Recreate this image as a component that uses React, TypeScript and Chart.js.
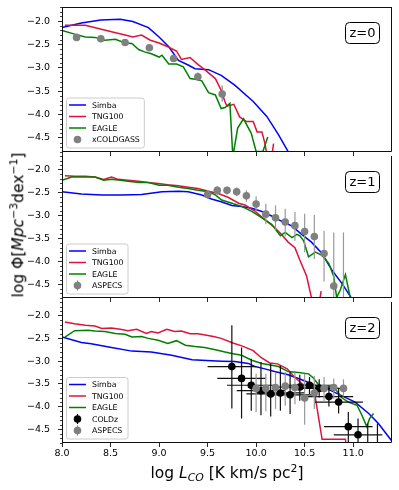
import React, { useEffect, useRef } from "react";
import { Chart, registerables } from "chart.js";
Chart.register(...registerables);

// ---------- axes ----------
const X_MIN = 8.0;
const X_MAX = 11.4;
const Y_MIN = -4.8;
const Y_MAX = -1.7;
const xTickValues = [8.0, 8.5, 9.0, 9.5, 10.0, 10.5, 11.0];
const yTickValues = [-4.5, -4.0, -3.5, -3.0, -2.5, -2.0];
const panelLabels = ["z=0", "z=1", "z=2"];

// ---------- z = 0 ----------
const simbaZ0X = [8.0, 8.2, 8.4, 8.6, 8.73, 8.89, 9.0, 9.1, 9.2, 9.3, 9.37, 9.51, 9.64, 9.78, 9.97, 10.11, 10.23, 10.33, 10.4];
const simbaZ0Y = [-2.14, -2.04, -1.98, -1.96, -2.01, -2.14, -2.34, -2.55, -2.84, -2.94, -3.02, -3.04, -3.16, -3.37, -3.72, -4.04, -4.43, -4.79, -5.05];
const tngZ0X = [8.03, 8.24, 8.51, 8.65, 8.73, 8.82, 8.91, 9.0, 9.09, 9.18, 9.23, 9.32, 9.39, 9.47, 9.58, 9.64, 9.68, 9.70, 9.77, 9.83, 9.90, 9.97, 10.01, 10.06, 10.09, 10.14, 10.18];
const tngZ0Y = [-2.09, -2.09, -2.23, -2.30, -2.34, -2.30, -2.41, -2.47, -2.55, -2.64, -2.82, -2.78, -2.91, -3.04, -3.23, -3.48, -3.73, -3.82, -3.78, -4.05, -4.15, -4.15, -4.37, -4.37, -4.61, -5.2, -4.62];
const eagleZ0X = [8.0, 8.13, 8.24, 8.34, 8.44, 8.55, 8.65, 8.72, 8.79, 8.85, 8.92, 9.0, 9.03, 9.10, 9.18, 9.25, 9.32, 9.39, 9.44, 9.51, 9.58, 9.64, 9.68, 9.73, 9.76, 9.81, 9.87, 9.95, 10.0, 10.07, 10.12];
const eagleZ0Y = [-2.20, -2.28, -2.34, -2.35, -2.41, -2.39, -2.47, -2.48, -2.61, -2.66, -2.70, -2.77, -2.73, -2.92, -2.92, -2.98, -3.23, -3.25, -3.28, -3.53, -3.58, -3.87, -3.85, -3.76, -4.9, -4.29, -4.09, -4.40, -4.79, -4.79, -4.48];
const xcgX = [8.15, 8.4, 8.65, 8.9, 9.15, 9.4, 9.65];
const xcgY = [-2.35, -2.38, -2.46, -2.57, -2.80, -3.19, -3.56];
const xcgHi = [-2.32, -2.35, -2.43, -2.53, -2.75, -3.10, -3.38];
const xcgLo = [-2.38, -2.41, -2.49, -2.61, -2.85, -3.28, -3.72];

// ---------- z = 1 ----------
const simbaZ1X = [8.0, 8.2, 8.41, 8.61, 8.82, 9.03, 9.2, 9.3, 9.44, 9.54, 9.64, 9.75, 9.85, 9.955, 10.06, 10.16, 10.26, 10.37, 10.47, 10.57, 10.68, 10.78, 10.88, 10.985, 11.05];
const simbaZ1Y = [-2.48, -2.53, -2.55, -2.55, -2.54, -2.48, -2.47, -2.48, -2.55, -2.64, -2.70, -2.78, -2.80, -2.84, -2.91, -3.01, -3.12, -3.23, -3.41, -3.58, -3.83, -4.19, -4.47, -4.81, -5.0];
const tngZ1X = [8.03, 8.13, 8.24, 8.34, 8.43, 8.51, 8.58, 8.68, 8.79, 8.89, 8.99, 9.09, 9.20, 9.30, 9.40, 9.51, 9.61, 9.71, 9.82, 9.885, 9.99, 10.09, 10.19, 10.26, 10.33, 10.40, 10.45, 10.52, 10.57, 10.62, 10.67];
const tngZ1Y = [-2.13, -2.14, -2.14, -2.16, -2.21, -2.16, -2.21, -2.23, -2.25, -2.28, -2.30, -2.33, -2.35, -2.38, -2.41, -2.47, -2.52, -2.60, -2.73, -2.77, -2.91, -3.09, -3.26, -3.41, -3.58, -3.70, -3.97, -4.32, -4.79, -5.3, -4.65];
const eagleZ1X = [8.0, 8.10, 8.2, 8.34, 8.43, 8.51, 8.60, 8.68, 8.79, 8.89, 9.0, 9.09, 9.2, 9.30, 9.40, 9.51, 9.58, 9.645, 9.75, 9.85, 9.955, 10.06, 10.16, 10.25, 10.30, 10.37, 10.42, 10.45, 10.49, 10.54, 10.61, 10.68, 10.75, 10.80, 10.83, 10.87, 10.92, 10.97];
const eagleZ1Y = [-2.23, -2.16, -2.16, -2.16, -2.23, -2.21, -2.23, -2.25, -2.28, -2.28, -2.34, -2.34, -2.38, -2.41, -2.45, -2.48, -2.55, -2.66, -2.73, -2.80, -2.91, -3.05, -3.19, -3.44, -3.37, -3.48, -3.41, -3.44, -3.55, -3.90, -3.80, -3.87, -4.05, -4.33, -4.79, -4.61, -4.29, -4.79];
const aspZ1X = [9.5, 9.6, 9.7, 9.8, 9.9, 10.0, 10.1, 10.2, 10.3, 10.4, 10.5, 10.6, 10.7, 10.8, 10.9];
const aspZ1Y = [-2.54, -2.45, -2.45, -2.48, -2.57, -2.75, -2.97, -3.05, -3.14, -3.22, -3.35, -3.46, -3.83, -4.54, -5.1];
const aspZ1Hi = [-2.44, -2.36, -2.37, -2.38, -2.45, -2.58, -2.74, -2.78, -2.85, -2.92, -2.96, -2.99, -3.33, -3.37, -3.37];
const aspZ1Lo = [-2.64, -2.55, -2.54, -2.58, -2.70, -2.92, -3.19, -3.33, -3.46, -3.55, -3.80, -3.95, -4.44, -5.3, -5.3];

// ---------- z = 2 ----------
const simbaZ2X = [8.0, 8.2, 8.30, 8.51, 8.72, 8.92, 9.13, 9.34, 9.54, 9.645, 9.78, 9.92, 9.99, 10.09, 10.19, 10.33, 10.47, 10.61, 10.745, 10.88, 11.02, 11.16, 11.26, 11.40];
const simbaZ2Y = [-2.47, -2.59, -2.62, -2.70, -2.78, -2.80, -2.87, -2.97, -2.99, -3.00, -3.01, -3.05, -3.12, -3.17, -3.23, -3.30, -3.41, -3.53, -3.62, -3.76, -3.90, -4.15, -4.37, -4.76];
const tngZ2X = [8.03, 8.13, 8.24, 8.34, 8.41, 8.51, 8.60, 8.68, 8.77, 8.87, 8.92, 8.99, 9.08, 9.16, 9.23, 9.32, 9.40, 9.49, 9.56, 9.64, 9.76, 9.86, 9.97, 10.05, 10.14, 10.22, 10.32, 10.40, 10.48, 10.59, 10.68, 10.92, 10.95];
const tngZ2Y = [-2.14, -2.18, -2.21, -2.23, -2.28, -2.27, -2.30, -2.33, -2.30, -2.39, -2.35, -2.38, -2.30, -2.35, -2.34, -2.40, -2.40, -2.43, -2.46, -2.50, -2.60, -2.67, -2.77, -2.92, -3.04, -3.06, -3.17, -3.36, -3.51, -3.54, -4.72, -4.72, -5.2];
const eagleZ2X = [8.03, 8.13, 8.27, 8.34, 8.44, 8.55, 8.65, 8.72, 8.82, 8.89, 8.99, 9.09, 9.18, 9.27, 9.37, 9.47, 9.58, 9.68, 9.75, 9.85, 9.955, 10.06, 10.16, 10.23, 10.33, 10.435, 10.54, 10.59, 10.64, 10.71, 10.78, 10.83, 10.88, 10.95, 11.04, 11.09, 11.14, 11.17, 11.21];
const eagleZ2Y = [-2.47, -2.33, -2.32, -2.34, -2.35, -2.39, -2.41, -2.47, -2.46, -2.50, -2.54, -2.61, -2.55, -2.65, -2.68, -2.70, -2.75, -2.80, -2.83, -2.87, -2.98, -3.05, -3.09, -3.12, -3.23, -3.25, -3.28, -3.37, -3.51, -3.58, -3.56, -3.65, -3.80, -3.90, -3.97, -4.19, -4.44, -4.26, -4.15];
const coldzX = [9.75, 9.85, 9.95, 10.05, 10.15, 10.25, 10.35, 10.45, 10.55, 10.65, 10.75, 10.85, 10.95, 11.05, 11.15, 11.25];
const coldzY = [-3.12, -3.38, -3.53, -3.65, -3.72, -3.70, -3.74, -3.57, -3.53, -3.60, -3.78, -3.90, -4.44, -4.62, -5.3, -5.3];
const coldzHi = [-2.21, -2.70, -2.95, -3.02, -3.05, -3.10, -3.24, -3.30, -3.35, -3.40, -3.55, -3.60, -4.12, -4.26, -4.37, -4.37];
const coldzLo = [-4.04, -4.26, -4.09, -4.19, -4.22, -4.09, -4.16, -3.87, -3.72, -3.80, -4.00, -4.15, -5.0, -5.3, -6.0, -6.0];
const coldzXErr = [0.25, 0.25, 0.25, 0.25, 0.25, 0.25, 0.25, 0.25, 0.25, 0.25, 0.25, 0.25, 0.25, 0.25, 0.25, 0.25];
const aspZ2X = [10.0, 10.1, 10.2, 10.3, 10.4, 10.5, 10.6, 10.7, 10.8, 10.9];
const aspZ2Y = [-3.60, -3.60, -3.58, -3.55, -3.58, -3.81, -3.70, -3.60, -3.58, -3.60];
const aspZ2Hi = [-3.28, -3.28, -3.26, -3.24, -3.25, -3.28, -3.32, -3.35, -3.38, -3.40];
const aspZ2Lo = [-4.12, -4.10, -4.05, -3.98, -3.95, -4.40, -4.05, -3.90, -3.83, -3.78];

// ---------- styles ----------
const C_SIMBA = "#0000ff";
const C_TNG = "#dc143c";
const C_EAGLE = "#008000";
const C_GRAY = "#808080";
const C_BLACK = "#000000";
const FONT = '"DejaVu Sans", sans-serif';

const toXY = (xs: number[], ys: number[]) => xs.map((x, i) => ({ x, y: ys[i] }));

const lineDs = (label: string, xs: number[], ys: number[], color: string, order: number) => ({
  label,
  data: toXY(xs, ys),
  showLine: true,
  borderColor: color,
  backgroundColor: color,
  borderWidth: 1.5,
  pointRadius: 0,
  fill: false,
  tension: 0,
  order,
});

const pointDs = (label: string, xs: number[], ys: number[], color: string, errColor: string, hi: number[], lo: number[], xErr: number[] | null, order: number) => ({
  label,
  data: toXY(xs, ys),
  showLine: false,
  pointRadius: 3.8,
  pointBackgroundColor: color,
  pointBorderWidth: 0,
  pointBorderColor: color,
  errHi: hi,
  errLo: lo,
  xErr,
  errColor,
  order,
});

const decorPlugin = {
  id: "decor",
  beforeDatasetDraw(chart: any, args: any) {
    const ds = chart.data.datasets[args.index];
    if (!ds.errHi) return;
    const { ctx, chartArea: a } = chart;
    const xs = chart.scales.x;
    const ys = chart.scales.y;
    ctx.save();
    ctx.beginPath();
    ctx.rect(a.left, a.top, a.right - a.left, a.bottom - a.top);
    ctx.clip();
    ctx.strokeStyle = ds.errColor;
    ctx.lineWidth = 1.2;
    ds.data.forEach((p: any, i: number) => {
      const px = xs.getPixelForValue(p.x);
      ctx.beginPath();
      ctx.moveTo(px, ys.getPixelForValue(ds.errHi[i]));
      ctx.lineTo(px, ys.getPixelForValue(ds.errLo[i]));
      if (ds.xErr) {
        const py = ys.getPixelForValue(p.y);
        ctx.moveTo(xs.getPixelForValue(p.x - ds.xErr[i]), py);
        ctx.lineTo(xs.getPixelForValue(p.x + ds.xErr[i]), py);
      }
      ctx.stroke();
    });
    ctx.restore();
  },
  afterDraw(chart: any, _args: any, opts: any) {
    const { ctx, chartArea: a } = chart;
    const ys = chart.scales.y;
    ctx.save();
    // frame
    ctx.strokeStyle = "#111";
    ctx.lineWidth = 1;
    ctx.beginPath();
    const L = Math.round(a.left) + 0.5;
    const R = Math.round(a.right) - 0.5;
    const T = Math.round(a.top) + 0.5;
    const B = Math.round(a.bottom) - 0.5;
    if (opts.drawTop) {
      ctx.moveTo(L, T);
      ctx.lineTo(R, T);
    }
    ctx.moveTo(R, Math.round(a.top));
    ctx.lineTo(R, B);
    ctx.lineTo(L, B);
    ctx.moveTo(L, Math.round(a.top));
    ctx.lineTo(L, B + 0.5);
    ctx.stroke();
    // minor y ticks
    ctx.beginPath();
    ctx.lineWidth = 0.8;
    for (let k = -48; k <= -17; k++) {
      if (k % 5 === 0) continue;
      const py = Math.round(ys.getPixelForValue(k / 10)) + 0.5;
      ctx.moveTo(L, py);
      ctx.lineTo(L - 2.5, py);
    }
    ctx.stroke();

    // legend
    const items = opts.items as any[];
    ctx.font = `7.8px ${FONT}`;
    const maxW = Math.max(...items.map((it) => ctx.measureText(it.label).width));
    const rowH = 11.5;
    const boxL = a.left + 4;
    const boxW = 26 + maxW + 4;
    const boxB = a.bottom - 4.5;
    const boxH = items.length * rowH + 4;
    const boxT = boxB - boxH;
    ctx.fillStyle = "rgba(255,255,255,0.85)";
    ctx.strokeStyle = "#cccccc";
    ctx.lineWidth = 1;
    ctx.beginPath();
    if ((ctx as any).roundRect) (ctx as any).roundRect(boxL + 0.5, boxT + 0.5, boxW, boxH, 2.5);
    else ctx.rect(boxL + 0.5, boxT + 0.5, boxW, boxH);
    ctx.fill();
    ctx.stroke();
    items.forEach((it, i) => {
      const cy = boxT + 7.5 + i * rowH;
      if (it.type === "line") {
        ctx.strokeStyle = it.color;
        ctx.lineWidth = 1.5;
        ctx.beginPath();
        ctx.moveTo(boxL + 3, cy);
        ctx.lineTo(boxL + 20, cy);
        ctx.stroke();
      } else {
        const mx = boxL + 11.5;
        if (it.err) {
          ctx.strokeStyle = it.color;
          ctx.lineWidth = 1.2;
          ctx.beginPath();
          ctx.moveTo(mx, cy - 5);
          ctx.lineTo(mx, cy + 5);
          ctx.stroke();
        }
        ctx.fillStyle = it.color;
        ctx.beginPath();
        ctx.arc(mx, cy, 3.8, 0, Math.PI * 2);
        ctx.fill();
      }
      ctx.fillStyle = "#000";
      ctx.textAlign = "left";
      ctx.textBaseline = "middle";
      ctx.fillText(it.label, boxL + 26, cy + 0.5);
    });

    // z label
    ctx.font = `13px ${FONT}`;
    const zw = ctx.measureText(opts.zText).width;
    const zbW = zw + 8;
    const zbH = 21;
    const zbR = a.right - 13;
    const zbT = a.top + 15;
    ctx.fillStyle = "#fff";
    ctx.strokeStyle = "#000";
    ctx.lineWidth = 1;
    ctx.beginPath();
    if ((ctx as any).roundRect) (ctx as any).roundRect(zbR - zbW + 0.5, zbT + 0.5, zbW, zbH, 4);
    else ctx.rect(zbR - zbW + 0.5, zbT + 0.5, zbW, zbH);
    ctx.fill();
    ctx.stroke();
    ctx.fillStyle = "#000";
    ctx.textAlign = "center";
    ctx.textBaseline = "middle";
    ctx.fillText(opts.zText, zbR - zbW / 2 + 0.5, zbT + zbH / 2 + 1);
    ctx.restore();
  },
};

type PanelSpec = {
  datasets: any[];
  legend: any[];
  zText: string;
  padTop: number;
  xAxisH: number;
  showXLabels: boolean;
  drawTop: boolean;
};

function makeConfig(p: PanelSpec): any {
  return {
    type: "scatter",
    data: { datasets: p.datasets },
    options: {
      animation: false,
      responsive: false,
      maintainAspectRatio: false,
      events: [],
      devicePixelRatio: 1,
      layout: { padding: { top: p.padTop, right: 7, bottom: 0, left: 0 } },
      plugins: {
        legend: { display: false },
        tooltip: { enabled: false },
        decor: { items: p.legend, zText: p.zText, drawTop: p.drawTop },
      },
      scales: {
        x: {
          type: "linear",
          min: X_MIN,
          max: X_MAX,
          afterBuildTicks: (s: any) => {
            s.ticks = xTickValues.map((v) => ({ value: v }));
          },
          afterFit: (s: any) => {
            s.height = p.xAxisH;
            s.paddingLeft = 0;
            s.paddingRight = 0;
            s.paddingTop = 0;
            s.paddingBottom = 0;
          },
          ticks: {
            display: p.showXLabels,
            autoSkip: false,
            maxRotation: 0,
            padding: 1,
            color: "#000",
            font: { family: FONT, size: 9.5 },
            callback: (v: number) => Number(v).toFixed(1),
          },
          grid: { display: true, drawOnChartArea: false, drawTicks: true, tickLength: 4, tickColor: "#111", tickWidth: 0.9 },
          border: { display: false },
        },
        y: {
          type: "linear",
          min: Y_MIN,
          max: Y_MAX,
          afterBuildTicks: (s: any) => {
            s.ticks = yTickValues.map((v) => ({ value: v }));
          },
          afterFit: (s: any) => {
            s.width = 62;
            s.paddingLeft = 0;
            s.paddingRight = 0;
            s.paddingTop = 0;
            s.paddingBottom = 0;
          },
          ticks: {
            autoSkip: false,
            padding: 8,
            color: "#000",
            font: { family: FONT, size: 9.5 },
            callback: (v: number) => (v < 0 ? "\u2212" : "") + Math.abs(Number(v)).toFixed(1),
          },
          grid: { display: true, drawOnChartArea: false, drawTicks: true, tickLength: 4, tickColor: "#111", tickWidth: 0.9 },
          border: { display: false },
        },
      },
    },
    plugins: [decorPlugin],
  };
}

const legendSims = [
  { label: "Simba", type: "line", color: C_SIMBA },
  { label: "TNG100", type: "line", color: C_TNG },
  { label: "EAGLE", type: "line", color: C_EAGLE },
];

const panels: PanelSpec[] = [
  {
    datasets: [
      lineDs("Simba", simbaZ0X, simbaZ0Y, C_SIMBA, 3),
      lineDs("TNG100", tngZ0X, tngZ0Y, C_TNG, 2),
      lineDs("EAGLE", eagleZ0X, eagleZ0Y, C_EAGLE, 1),
      pointDs("xCOLDGASS", xcgX, xcgY, C_GRAY, C_GRAY, xcgHi, xcgLo, null, 0),
    ],
    legend: [...legendSims, { label: "xCOLDGASS", type: "point", color: C_GRAY, err: false }],
    zText: panelLabels[0],
    padTop: 7,
    xAxisH: 4,
    showXLabels: false,
    drawTop: true,
  },
  {
    datasets: [
      lineDs("Simba", simbaZ1X, simbaZ1Y, C_SIMBA, 3),
      lineDs("TNG100", tngZ1X, tngZ1Y, C_TNG, 2),
      lineDs("EAGLE", eagleZ1X, eagleZ1Y, C_EAGLE, 1),
      pointDs("ASPECS", aspZ1X, aspZ1Y, C_GRAY, "#999999", aspZ1Hi, aspZ1Lo, null, 0),
    ],
    legend: [...legendSims, { label: "ASPECS", type: "point", color: C_GRAY, err: true }],
    zText: panelLabels[1],
    padTop: 0,
    xAxisH: 4,
    showXLabels: false,
    drawTop: false,
  },
  {
    datasets: [
      lineDs("Simba", simbaZ2X, simbaZ2Y, C_SIMBA, 4),
      lineDs("TNG100", tngZ2X, tngZ2Y, C_TNG, 3),
      lineDs("EAGLE", eagleZ2X, eagleZ2Y, C_EAGLE, 2),
      pointDs("COLDz", coldzX, coldzY, C_BLACK, "#111111", coldzHi, coldzLo, coldzXErr, 1),
      pointDs("ASPECS", aspZ2X, aspZ2Y, C_GRAY, "#999999", aspZ2Hi, aspZ2Lo, null, 0),
    ],
    legend: [
      ...legendSims,
      { label: "COLDz", type: "point", color: C_BLACK, err: true },
      { label: "ASPECS", type: "point", color: C_GRAY, err: true },
    ],
    zText: panelLabels[2],
    padTop: 0,
    xAxisH: 47,
    showXLabels: true,
    drawTop: false,
  },
];

const canvasBoxes = [
  { top: 0, height: 156 },
  { top: 152, height: 150 },
  { top: 298, height: 192 },
];

export default function App() {
  const r0 = useRef<HTMLCanvasElement>(null);
  const r1 = useRef<HTMLCanvasElement>(null);
  const r2 = useRef<HTMLCanvasElement>(null);

  useEffect(() => {
    const refs = [r0, r1, r2];
    const charts = refs.map((r, i) => new Chart(r.current as HTMLCanvasElement, makeConfig(panels[i])));
    return () => charts.forEach((c) => c.destroy());
  }, []);

  const refs = [r0, r1, r2];
  return (
    <div style={{ position: "absolute", left: 0, top: 0, width: 399, height: 490, background: "#fff", overflow: "hidden", fontFamily: FONT }}>
      {canvasBoxes.map((b, i) => (
        <canvas
          key={i}
          ref={refs[i]}
          width={399}
          height={b.height}
          style={{ position: "absolute", left: 0, top: b.top, width: 399, height: b.height }}
        />
      ))}
      <div
        style={{
          position: "absolute",
          left: 18,
          top: 225,
          transform: "translate(-50%, -50%) rotate(-90deg)",
          whiteSpace: "nowrap",
          fontSize: 15.5,
          lineHeight: 1,
          color: "#000",
        }}
      >
        log Φ[<i>Mpc</i>
        <span style={{ fontSize: "0.7em", verticalAlign: "0.55em" }}>−3</span>dex
        <span style={{ fontSize: "0.7em", verticalAlign: "0.55em" }}>−1</span>]
      </div>
      <div
        style={{
          position: "absolute",
          left: 227,
          top: 474,
          transform: "translate(-50%, -50%)",
          whiteSpace: "nowrap",
          fontSize: 15.5,
          lineHeight: 1,
          color: "#000",
        }}
      >
        log <i>L</i>
        <span style={{ fontSize: "0.7em", verticalAlign: "-0.3em", fontStyle: "italic" }}>CO</span> [K km/s pc
        <span style={{ fontSize: "0.7em", verticalAlign: "0.55em" }}>2</span>]
      </div>
    </div>
  );
}
